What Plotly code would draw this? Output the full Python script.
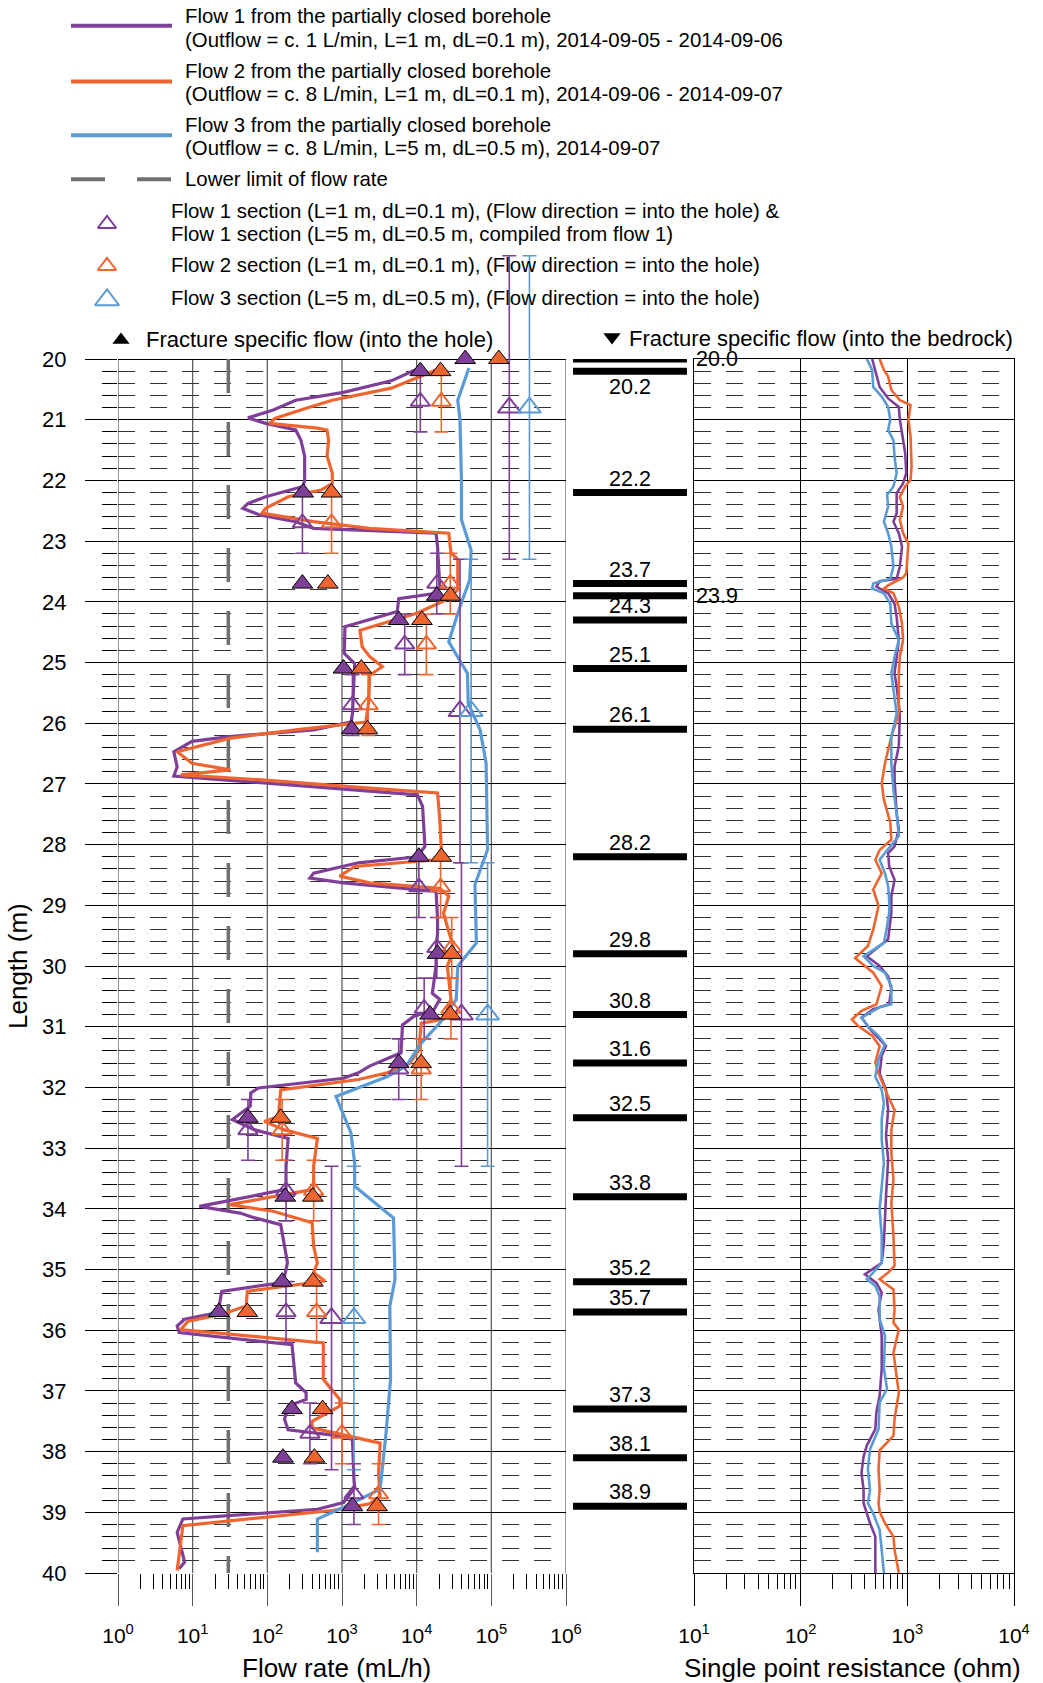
import plotly.graph_objects as go

W, H = 1043, 1683
FONT = "Liberation Sans, Arial, Helvetica, sans-serif"
PURPLE = "#7F3F98"
ORANGE = "#EF6530"
BLUE = "#5B9BD5"
GRAY = "#707070"

# ---------------- data ----------------
# Flow 1 (purple), flow rate in mL/h vs borehole length (m)
flow1_depth = [20.17, 20.36, 20.55, 20.68, 20.84, 20.97, 21.06, 21.17, 21.34, 21.6, 21.99, 22.1, 22.27, 22.38,
               22.46, 22.57, 22.68, 22.79, 22.87, 23.1, 23.75, 23.86, 23.95, 24.16, 24.41, 24.85, 25.02, 25.84,
               25.98, 26.11, 26.22, 26.3, 26.47, 26.72, 26.87, 26.99, 27.07, 27.18, 27.37, 28.03, 28.2, 28.3,
               28.47, 28.55, 28.63, 28.77, 29.23, 29.46, 29.73, 30.0, 30.45, 30.55, 30.72, 30.83, 30.97, 31.43,
               31.65, 31.76, 31.85, 32.01, 32.09, 32.31, 32.53, 32.7, 32.84, 33.3, 33.68, 33.96, 34.07, 34.15,
               34.26, 34.62, 34.89, 35.11, 35.22, 35.36, 35.71, 35.82, 35.93, 36.04, 36.24, 36.87, 37.03, 37.14,
               37.25, 37.47, 37.64, 37.75, 37.8, 38.46, 38.6, 38.84, 38.95, 39.11, 39.33, 39.82, 39.93]
flow1_rate = [10000, 4570, 1047, 240, 120, 55, 95, 240, 282, 316, 316, 302, 95, 55,
              47, 79, 240, 417, 18200, 19050, 20400, 18200, 5750, 5500, 1096, 1072, 1479, 1380,
              1318, 417, 31, 9.8, 5.6, 6.2, 5.6, 95, 741, 10230, 12000, 12900, 10200, 1660,
              417, 372, 1047, 18200, 19050, 19050, 18200, 18200, 16200, 20400, 17000, 9120, 6460, 6170,
              2340, 1660, 1047, 76, 60, 59, 34, 68, 190, 178, 178, 12.3, 43, 68,
              151, 170, 186, 170, 151, 24.5, 21.9, 7.8, 6.2, 6.6, 214, 240, 331, 331,
              190, 170, 190, 1047, 1380, 1445, 1479, 1047, 468, 7.4, 6.2, 7.8, 6.6]

# Flow 2 (orange)
flow2_depth = [20.18, 20.48, 20.68, 20.81, 20.98, 21.06, 21.14, 21.17, 21.34, 21.6, 21.88, 22.05, 22.16, 22.27,
               22.46, 22.54, 22.68, 22.79, 22.87, 23.2, 23.3, 23.8, 23.95, 24.19, 24.47, 24.74, 24.9, 25.07,
               25.21, 25.62, 25.98, 26.11, 26.25, 26.47, 26.66, 26.77, 26.85, 26.93, 27.07, 27.15, 27.59, 28.08,
               28.25, 28.36, 28.52, 28.63, 28.72, 28.85, 29.13, 29.35, 29.73, 30.0, 30.55, 30.88, 30.94, 31.38,
               31.6, 31.76, 31.87, 32.04, 32.48, 32.56, 32.7, 32.84, 33.3, 33.68, 33.93, 34.04, 34.23, 34.62,
               34.89, 35.05, 35.19, 35.36, 35.6, 35.74, 35.85, 35.99, 36.21, 36.81, 37.14, 37.25, 37.5, 37.61,
               37.86, 38.35, 38.73, 38.86, 38.97, 39.22, 39.55, 39.96]
flow2_rate = [18200, 4570, 741, 331, 126, 107, 468, 631, 661, 631, 741, 741, 525, 190,
              95, 85, 417, 2340, 26900, 28800, 35500, 35500, 26900, 10000, 1740, 1860, 2340, 3470,
              2340, 2290, 2090, 240, 31, 6.2, 9.8, 32, 6.9, 76, 2340, 19050, 20400, 21400,
              18200, 1479, 933, 2340, 20400, 26900, 22900, 25700, 31600, 25700, 28800, 22900, 11500, 10700,
              8130, 4070, 1660, 151, 141, 91, 170, 468, 417, 417, 31, 120, 398, 417,
              468, 417, 589, 54, 52, 24.5, 8.7, 6.9, 562, 562, 933, 933, 398, 398,
              3240, 3090, 3240, 2340, 741, 7.4, 6.9, 6.2]

# Flow 3 (blue)
flow3_depth = [20.15, 20.68, 21.0, 22.0, 22.65, 23.15, 23.64, 24.08, 24.66, 25.18, 25.67, 26.11, 26.66, 28.08,
               28.66, 29.62, 30.0, 30.55, 30.94, 31.27, 31.65, 31.82, 32.15, 32.75, 33.25, 33.63, 34.15, 35.16,
               35.6, 36.81, 37.69, 38.62, 38.89, 39.11, 39.66]
flow3_rate = [50100, 35500, 38000, 39800, 39800, 53700, 51300, 38000, 26900, 47900, 49000, 70800, 85100, 89100,
              60300, 63100, 35500, 33900, 20400, 11500, 7240, 4070, 832, 1318, 1479, 1479, 4900, 5130,
              4370, 4470, 3890, 3240, 1175, 468, 468]

LOWER_LIMIT = 30  # mL/h

# Fracture specific flow (into the hole)
frac_depth = [20.0, 20.2, 22.2, 23.7, 23.9, 24.3, 25.1, 26.1, 28.2, 29.8, 30.8, 31.6, 32.5, 33.8, 35.2, 35.7,
              37.3, 38.1, 38.9]
frac_flow1 = [44700, 11200, 302, 295, 18600, 5750, 1047, 1349, 10700, 19050, 15100, 5750, 55, 174, 158, 22.4,
              214, 162, 1380]
frac_flow2 = [126000, 20900, 724, 646, 28200, 11750, 1820, 2190, 21400, 29500, 28200, 11500, 151, 407, 407, 54,
              550, 427, 2950]

# Section flows, L = 1 m (centre of section)
sec1m_depth = [20.7, 22.7, 23.7, 24.7, 25.7, 28.7, 29.7, 30.7, 31.7, 32.7, 33.7, 35.7, 37.7, 38.7]
sec1m_flow1 = [11200, 295, 18600, 6920, 1380, 10700, 18600, 12600, 5750, 55, 178, 178, 372, 1445]
sec1m_flow2 = [21400, 724, 28200, 13500, 2240, 20900, 29500, 28800, 11500, 158, 417, 457, 1000, 3090]
sec1m_half = 0.5

# Section flows, L = 5 m
sec5m_depth = [20.8, 25.8, 30.8, 35.8]
sec5m_flow1 = [174000, 38000, 39800, 724]
sec5m_flow3 = [324000, 53700, 89100, 1445]
sec5m_half = 2.5

# Single point resistance (ohm)
spr1_depth = [20.0, 20.24, 20.46, 20.65, 20.79, 21.0, 21.23, 21.55, 21.88, 22.05, 22.21, 22.54, 22.68, 22.87,
              23.09, 23.42, 23.62, 23.66, 23.75, 23.86, 24.03, 24.25, 24.63, 24.9, 25.18, 25.4, 25.84, 26.38,
              26.71, 26.93, 27.48, 27.75, 28.03, 28.14, 28.36, 28.58, 28.85, 29.12, 29.56, 29.67, 29.84, 30.0,
              30.17, 30.38, 30.63, 30.71, 30.85, 31.04, 31.21, 31.32, 31.48, 31.77, 32.04, 32.37, 32.8, 33.19,
              33.79, 34.17, 34.56, 34.89, 35.08, 35.22, 35.38, 35.66, 36.09, 36.64, 37.08, 37.35, 37.63, 37.9,
              38.08, 38.35, 38.63, 38.85, 39.02, 39.18, 39.4, 40.0]
spr1_ohm = [468, 513, 550, 661, 832, 851, 891, 955, 977, 912, 794, 794, 741, 832,
            891, 851, 794, 550, 513, 661, 759, 794, 832, 794, 759, 794, 851, 832,
            759, 759, 794, 832, 759, 661, 676, 759, 708, 708, 661, 550, 417, 550,
            661, 708, 676, 479, 372, 447, 550, 631, 575, 550, 631, 661, 631, 661,
            631, 617, 603, 575, 400, 513, 575, 537, 575, 575, 550, 513, 501, 417,
            389, 372, 389, 389, 417, 447, 501, 501]

spr2_depth = [20.0, 20.18, 20.29, 20.51, 20.68, 20.76, 21.0, 21.28, 21.77, 21.99, 22.1, 22.27, 22.43, 22.65,
              22.87, 23.04, 23.53, 23.6, 23.73, 23.78, 23.86, 24.08, 24.36, 24.63, 24.9, 25.18, 25.84, 26.22,
              26.66, 26.99, 27.26, 27.64, 27.92, 28.09, 28.25, 28.47, 28.74, 29.01, 29.4, 29.67, 29.87, 29.95,
              30.11, 30.33, 30.63, 30.74, 30.88, 30.99, 31.15, 31.32, 31.59, 31.77, 32.15, 32.37, 32.7, 33.08,
              33.52, 33.9, 34.45, 34.94, 35.05, 35.16, 35.33, 35.66, 35.88, 35.99, 36.37, 37.03, 37.46, 37.74,
              37.98, 38.29, 38.63, 38.85, 38.99, 39.18, 39.4, 39.62, 40.0]
spr2_ohm = [550, 603, 661, 708, 851, 1072, 1023, 1072, 1096, 1072, 955, 851, 912, 851,
            912, 1023, 977, 912, 661, 603, 741, 832, 891, 912, 851, 832, 832, 708,
            617, 575, 603, 692, 708, 550, 501, 575, 479, 537, 479, 427, 324, 372,
            479, 575, 513, 372, 302, 347, 468, 550, 501, 537, 661, 759, 708, 708,
            741, 708, 741, 759, 661, 550, 741, 759, 741, 832, 741, 832, 759, 741,
            550, 537, 550, 537, 550, 617, 741, 759, 832]

spr3_depth = [20.0, 20.18, 20.46, 20.62, 20.79, 21.0, 21.17, 21.34, 21.61, 21.88, 22.1, 22.24, 22.43, 22.68,
              22.87, 23.09, 23.42, 23.62, 23.7, 23.78, 23.86, 24.03, 24.36, 24.63, 24.9, 25.18, 25.84, 26.22,
              26.66, 27.1, 27.48, 27.86, 28.03, 28.25, 28.47, 28.69, 28.91, 29.12, 29.45, 29.62, 29.84, 30.0,
              30.11, 30.33, 30.63, 30.68, 30.85, 30.99, 31.15, 31.29, 31.54, 31.82, 32.04, 32.26, 32.53, 32.86,
              33.24, 33.63, 34.0, 34.45, 34.89, 35.05, 35.16, 35.27, 35.44, 35.82, 36.09, 36.64, 36.97, 37.19,
              37.63, 37.96, 38.29, 38.63, 38.85, 39.02, 39.29, 39.62, 40.0]
spr3_ohm = [417, 468, 479, 575, 661, 692, 661, 741, 759, 794, 741, 646, 661, 603,
            661, 708, 741, 692, 479, 468, 603, 692, 708, 832, 759, 708, 794, 708,
            708, 741, 794, 832, 692, 550, 617, 661, 676, 676, 631, 603, 389, 479,
            617, 708, 708, 550, 372, 427, 537, 617, 537, 501, 575, 603, 575, 575,
            603, 575, 550, 575, 575, 479, 417, 501, 550, 550, 617, 603, 646, 550,
            537, 447, 427, 447, 427, 479, 550, 575, 603]

# Fracture positions (into the bedrock column)
bar_depth = [20.0, 20.2, 22.2, 23.7, 23.9, 24.3, 25.1, 26.1, 28.2, 29.8, 30.8, 31.6, 32.5, 33.8, 35.2, 35.7,
             37.3, 38.1, 38.9]
bar_labels = ["20.0", "20.2", "22.2", "23.7", "23.9", "24.3", "25.1", "26.1", "28.2", "29.8", "30.8", "31.6",
              "32.5", "33.8", "35.2", "35.7", "37.3", "38.1", "38.9"]

left_ticks = [1, 10, 100, 1000, 10000, 100000, 1000000]
left_ticktext = ["10<sup>%d</sup>" % i for i in range(7)]
right_ticks = [10, 100, 1000, 10000]
right_ticktext = ["10<sup>%d</sup>" % i for i in range(1, 5)]
depth_ticks = list(range(20, 41))

# ---------------- layout helpers ----------------
Y20, Y40 = 359.0, 1573.0
PPM = (Y40 - Y20) / 20.0
L_X0, L_X1 = 118.0, 566.0
M_X0, M_X1 = 566.0, 694.0
R_X0, R_X1 = 694.0, 1014.0
TOP_EXT = 18.0


def fx(p):
    return p / W


def fy(p):
    return 1 - p / H


minor_depth = [round(20 + 0.2 * i, 1) for i in range(1, 100) if i % 5 != 0]
minor_left = [m * 10 ** e for e in range(0, 6) for m in range(2, 10)]
minor_right = [m * 10 ** e for e in range(1, 4) for m in range(2, 10)]

fig = go.Figure()

# lower limit
fig.add_trace(go.Scatter(x=[LOWER_LIMIT, LOWER_LIMIT], y=[20, 40], mode="lines",
                         line=dict(color=GRAY, width=3.5, dash="34px,29px"), xaxis="x", yaxis="y"))
# flow lines
for d, v, c in [(flow1_depth, flow1_rate, PURPLE), (flow2_depth, flow2_rate, ORANGE),
                (flow3_depth, flow3_rate, BLUE)]:
    fig.add_trace(go.Scatter(x=v, y=d, mode="lines", line=dict(color=c, width=3.2), xaxis="x", yaxis="y"))

# 5 m sections
for v, c in [(sec5m_flow1, PURPLE), (sec5m_flow3, BLUE)]:
    fig.add_trace(go.Scatter(
        x=v, y=sec5m_depth, mode="markers", xaxis="x", yaxis="y",
        marker=dict(symbol="triangle-up-open", size=20, color=c, line=dict(width=2, color=c)),
        error_y=dict(type="data", array=[sec5m_half] * len(sec5m_depth), symmetric=True,
                     color=c, thickness=1.6, width=7)))
# 1 m sections
for v, c in [(sec1m_flow1, PURPLE), (sec1m_flow2, ORANGE)]:
    fig.add_trace(go.Scatter(
        x=v, y=sec1m_depth, mode="markers", xaxis="x", yaxis="y",
        marker=dict(symbol="triangle-up-open", size=17, color=c, line=dict(width=2, color=c)),
        error_y=dict(type="data", array=[sec1m_half] * len(sec1m_depth), symmetric=True,
                     color=c, thickness=1.6, width=7)))
# fracture specific flow
for v, c in [(frac_flow1, PURPLE), (frac_flow2, ORANGE)]:
    fig.add_trace(go.Scatter(
        x=v, y=frac_depth, mode="markers", xaxis="x", yaxis="y",
        marker=dict(symbol="triangle-up", size=18, color=c, line=dict(width=1, color="black"))))

# SPR
for d, v, c in [(spr1_depth, spr1_ohm, PURPLE), (spr2_depth, spr2_ohm, ORANGE), (spr3_depth, spr3_ohm, BLUE)]:
    fig.add_trace(go.Scatter(x=v, y=d, mode="lines", line=dict(color=c, width=2.6), xaxis="x2", yaxis="y2"))

# fracture bars (middle column)
bx, by = [], []
for d in bar_depth:
    bx += [0.055, 0.945, None]
    by += [d, d, None]
fig.add_trace(go.Scatter(x=bx, y=by, mode="lines", line=dict(color="black", width=7), xaxis="x3", yaxis="y3"))

# legend markers (pixel coordinate overlay)
fig.add_trace(go.Scatter(x=[107, 107], y=[224, 266], mode="markers", xaxis="x4", yaxis="y4",
                         marker=dict(symbol="triangle-up-open", size=16, color=[PURPLE, ORANGE],
                                     line=dict(width=2, color=[PURPLE, ORANGE]))))
fig.add_trace(go.Scatter(x=[107], y=[300], mode="markers", xaxis="x4", yaxis="y4",
                         marker=dict(symbol="triangle-up-open", size=21, color=BLUE, line=dict(width=2, color=BLUE))))
fig.add_trace(go.Scatter(x=[121], y=[340], mode="markers", xaxis="x4", yaxis="y4",
                         marker=dict(symbol="triangle-up", size=15, color="black")))
fig.add_trace(go.Scatter(x=[612], y=[337], mode="markers", xaxis="x4", yaxis="y4",
                         marker=dict(symbol="triangle-down", size=15, color="black")))

shapes = []
# left panel vertical grid lines (decades)
for t in left_ticks:
    shapes.append(dict(type="line", xref="x", yref="y", x0=t, x1=t, y0=20, y1=40,
                       line=dict(color="#555555", width=1.2), layer="below"))
# legend line samples
for yy, c in [(25.8, PURPLE), (81.5, ORANGE), (135.2, BLUE)]:
    shapes.append(dict(type="line", xref="x4", yref="y4", x0=71, x1=172, y0=yy, y1=yy,
                       line=dict(color=c, width=4)))
shapes.append(dict(type="line", xref="x4", yref="y4", x0=71, x1=172, y0=179.2, y1=179.2,
                   line=dict(color=GRAY, width=4, dash="34px,32px")))

ann = []
LF = dict(family=FONT, size=20.4, color="black")
legend_text = [
    (183, 16.1, "Flow 1 from the partially closed borehole"),
    (183, 39.7, "(Outflow = c. 1 L/min, L=1 m, dL=0.1 m), 2014-09-05 - 2014-09-06"),
    (183, 70.8, "Flow 2 from the partially closed borehole"),
    (183, 94.4, "(Outflow = c. 8 L/min, L=1 m, dL=0.1 m), 2014-09-06 - 2014-09-07"),
    (183, 124.5, "Flow 3 from the partially closed borehole"),
    (183, 148.1, "(Outflow = c. 8 L/min, L=5 m, dL=0.5 m), 2014-09-07"),
    (183, 179.2, "Lower limit of flow rate"),
    (169, 211.4, "Flow 1 section (L=1 m, dL=0.1 m), (Flow direction = into the hole) &"),
    (169, 233.9, "Flow 1 section (L=5 m, dL=0.5 m, compiled from flow 1)"),
    (169, 265.0, "Flow 2 section (L=1 m, dL=0.1 m), (Flow direction = into the hole)"),
    (169, 298.3, "Flow 3 section (L=5 m, dL=0.5 m), (Flow direction = into the hole)"),
]
for x, y, t in legend_text:
    ann.append(dict(xref="x4", yref="y4", x=x, y=y, text=t, showarrow=False, xanchor="left",
                    yanchor="middle", font=LF))
for x, y, t in [(144, 339, "Fracture specific flow (into the hole)"),
                (627, 338, "Fracture specific flow (into the bedrock)")]:
    ann.append(dict(xref="x4", yref="y4", x=x, y=y, text=t, showarrow=False, xanchor="left",
                    yanchor="middle", font=dict(family=FONT, size=22, color="black")))

# fracture labels
BF = dict(family=FONT, size=21.5, color="black")
for d, t in zip(bar_depth, bar_labels):
    if t in ("20.0", "23.9"):
        ann.append(dict(xref="x4", yref="y3", x=694, y=d, text=t, showarrow=False, xanchor="left",
                        yanchor="middle", font=BF))
    elif t == "20.2":
        ann.append(dict(xref="x3", yref="y3", x=0.5, y=d, text=t, showarrow=False, xanchor="center",
                        yanchor="top", yshift=-2, font=BF))
    else:
        ann.append(dict(xref="x3", yref="y3", x=0.5, y=d, text=t, showarrow=False, xanchor="center",
                        yanchor="bottom", yshift=0, font=BF))

TF = dict(family=FONT, size=26, color="black")
ann.append(dict(xref="x4", yref="y4", x=18, y=(Y20 + Y40) / 2, text="Length (m)", textangle=-90,
                showarrow=False, font=TF))
ann.append(dict(xref="x4", yref="y4", x=336, y=1668, text="Flow rate (mL/h)", showarrow=False, font=TF))
ann.append(dict(xref="x4", yref="y4", x=852, y=1668, text="Single point resistance (ohm)", showarrow=False,
                font=TF))

TKF = dict(family=FONT, size=21, color="black")
YKF = dict(family=FONT, size=22, color="black")
dom_y_left = [fy(Y40), fy(Y20 - (20 - TOP_EXT) * PPM)]
dom_y_right = [fy(Y40), fy(Y20)]

fig.update_layout(
    width=W, height=H, margin=dict(l=0, r=0, t=0, b=0, pad=0), autosize=False,
    paper_bgcolor="white", plot_bgcolor="rgba(0,0,0,0)", showlegend=False,
    font=dict(family=FONT, color="black"),
    xaxis=dict(type="log", domain=[fx(L_X0), fx(L_X1)], range=[0, 6], anchor="y", automargin=False,
               tickvals=left_ticks, ticktext=left_ticktext, tickfont=TKF,
               ticks="outside", ticklen=32, tickcolor="#555555", tickwidth=1.2,
               showgrid=False, zeroline=False, showline=False, ticklabelstandoff=12,
               minor=dict(tickmode="array", tickvals=minor_left, ticks="outside", ticklen=15,
                          tickcolor="black", tickwidth=1, showgrid=False)),
    yaxis=dict(domain=dom_y_left, range=[40, TOP_EXT], anchor="x", automargin=False,
               tickmode="array", tickvals=depth_ticks, ticktext=[str(v) for v in depth_ticks], tickfont=YKF,
               ticks="outside", ticklen=32, tickcolor="black", tickwidth=1,
               showgrid=True, gridcolor="black", gridwidth=1, zeroline=False, showline=False,
               ticklabelstandoff=14,
               minor=dict(tickmode="array", tickvals=minor_depth, ticks="outside", ticklen=15,
                          tickcolor="black", tickwidth=1, showgrid=True, gridcolor="#333333",
                          gridwidth=1.3, griddash="17px,15px")),
    xaxis2=dict(type="log", domain=[fx(R_X0), fx(R_X1)], range=[1, 4], anchor="y2", automargin=False,
                tickvals=right_ticks, ticktext=right_ticktext, tickfont=TKF,
                ticks="outside", ticklen=32, tickcolor="black", tickwidth=1,
                showgrid=True, gridcolor="black", gridwidth=1, zeroline=False,
                showline=True, linecolor="black", linewidth=1, mirror=True, ticklabelstandoff=12,
                minor=dict(tickmode="array", tickvals=minor_right, ticks="outside", ticklen=15,
                           tickcolor="black", tickwidth=1, showgrid=False)),
    yaxis2=dict(domain=dom_y_right, range=[40, 20], anchor="x2", automargin=False,
                tickmode="array", tickvals=depth_ticks, showticklabels=False, ticks="",
                showgrid=True, gridcolor="black", gridwidth=1, zeroline=False,
                showline=True, linecolor="black", linewidth=1, mirror=True,
                minor=dict(tickmode="array", tickvals=minor_depth, ticks="", showgrid=True,
                           gridcolor="#333333", gridwidth=1.3, griddash="17px,15px")),
    xaxis3=dict(domain=[fx(M_X0), fx(M_X1)], range=[0, 1], anchor="y3", visible=False, automargin=False),
    yaxis3=dict(domain=dom_y_right, range=[40, 20], anchor="x3", visible=False, automargin=False),
    xaxis4=dict(domain=[0, 1], range=[0, W], anchor="y4", visible=False, automargin=False),
    yaxis4=dict(domain=[0, 1], range=[H, 0], anchor="x4", visible=False, automargin=False),
    shapes=shapes, annotations=ann,
)

fig.write_html("out.html", config={"displayModeBar": False},
               post_script="document.body.style.margin='0px';document.body.style.overflow='hidden';")
